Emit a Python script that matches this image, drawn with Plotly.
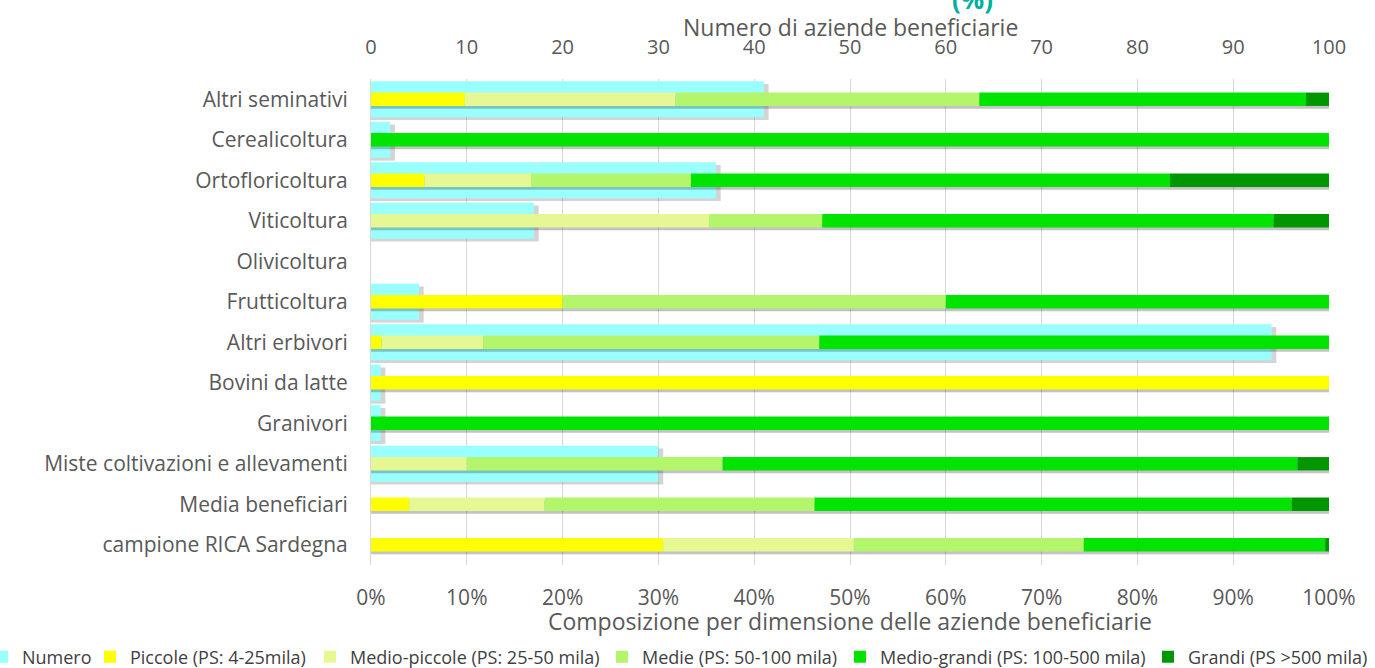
import plotly.graph_objects as go

categories = [
    "Altri seminativi", "Cerealicoltura", "Ortofloricoltura", "Viticoltura",
    "Olivicoltura", "Frutticoltura", "Altri erbivori", "Bovini da latte",
    "Granivori", "Miste coltivazioni e allevamenti", "Media beneficiari",
    "campione RICA Sardegna",
]

# Numero di aziende beneficiarie (top axis)
numero = [41, 2, 36, 17, 0, 5, 94, 1, 1, 30, None, None]

# Composizione per dimensione (%) (bottom axis)
piccole       = [9.8, 0, 5.6, 0, 0, 20, 1.1, 100, 0, 0, 4.0, 30.5]
medio_piccole = [22.0, 0, 11.1, 35.3, 0, 0, 10.6, 0, 0, 10.0, 14.1, 19.9]
medie         = [31.7, 0, 16.7, 11.8, 0, 40, 35.1, 0, 0, 26.7, 28.2, 24.0]
medio_grandi  = [34.1, 100, 50.0, 47.1, 0, 40, 53.2, 0, 100, 60.0, 49.8, 25.2]
grandi        = [2.4, 0, 16.6, 5.8, 0, 0, 0, 0, 0, 3.3, 3.9, 0.4]

series_names = [
    "Piccole (PS: 4-25mila)", "Medio-piccole (PS: 25-50 mila)",
    "Medie (PS: 50-100 mila)", "Medio-grandi (PS: 100-500 mila)",
    "Grandi (PS >500 mila)",
]
series_values = [piccole, medio_piccole, medie, medio_grandi, grandi]
series_colors = ["#FFFF00", "#E6F893", "#B3F56B", "#00E400", "#009600"]

top_title = "Numero di aziende beneficiarie"
bottom_title = "Composizione per dimensione delle aziende beneficiarie"

# figure geometry (pixels)
W, H = 1375, 668
ML, MR, MT, MB = 371, 46, 79, 103
PW, PH = W - ML - MR, H - MT - MB

# legend entry left edges (pixels), one legend box per entry
legend_px = [-18, 90, 310, 602, 840, 1148]

CYAN_W = 0.89
COMP_W = 0.33
SH = 0.07  # shadow drop in category units

fig = go.Figure()

# shadow of Numero bars
fig.add_trace(go.Bar(
    y=categories, x=[(v + 0.5) if v else None for v in numero], orientation="h",
    xaxis="x", yaxis="y", width=CYAN_W, offset=-CYAN_W / 2 + SH,
    marker=dict(color="rgba(60,60,60,0.22)", line=dict(width=0)),
    showlegend=False, hoverinfo="skip",
))
# Numero bars
fig.add_trace(go.Bar(
    y=categories, x=numero, orientation="h", name="Numero",
    xaxis="x", yaxis="y", width=CYAN_W, offset=-CYAN_W / 2,
    marker=dict(color="#99FFFF", line=dict(width=0)),
    legend="legend",
))

# shadow of composition bars
totals = [sum(s[i] for s in series_values) for i in range(len(categories))]
fig.add_trace(go.Bar(
    y=categories, x=[(t + 0.4) if t else None for t in totals], orientation="h",
    xaxis="x2", yaxis="y", width=COMP_W, offset=-COMP_W / 2 + SH,
    marker=dict(color="rgba(40,40,40,0.28)", line=dict(width=0)),
    showlegend=False, hoverinfo="skip",
))

# stacked composition bars (explicit bases)
bases = [0.0] * len(categories)
for k, (name, vals, col) in enumerate(zip(series_names, series_values, series_colors)):
    fig.add_trace(go.Bar(
        y=categories, x=vals, base=list(bases), orientation="h", name=name,
        xaxis="x2", yaxis="y", width=COMP_W, offset=-COMP_W / 2,
        marker=dict(color=col, line=dict(width=0)),
        legend=f"legend{k + 2}",
    ))
    bases = [b + v for b, v in zip(bases, vals)]

font_family = "Open Sans, Segoe UI, DejaVu Sans, sans-serif"
axis_color = "#595959"

legend_layouts = {}
for i, px in enumerate(legend_px):
    key = "legend" if i == 0 else f"legend{i + 1}"
    legend_layouts[key] = dict(
        orientation="h", x=(px - ML) / PW, xanchor="left",
        y=(PH - (657 - MT)) / PH, yanchor="middle",
        font=dict(size=18, color="#404040", family=font_family),
        itemwidth=30, bgcolor="rgba(0,0,0,0)",
    )

fig.update_layout(
    width=W, height=H,
    barmode="overlay",
    paper_bgcolor="white", plot_bgcolor="white",
    margin=dict(l=ML, r=MR, t=MT, b=MB, autoexpand=False),
    font=dict(family=font_family, color=axis_color, size=20),
    xaxis=dict(
        side="top", range=[0, 100], dtick=10, tick0=0,
        showgrid=True, gridcolor="#D9D9D9", gridwidth=1,
        zeroline=False, showline=False,
        tickfont=dict(size=20, color=axis_color),
        ticklabelstandoff=20,
    ),
    xaxis2=dict(
        overlaying="x", side="bottom", range=[0, 100], dtick=10, tick0=0,
        ticksuffix="%", showgrid=False, zeroline=False, showline=False,
        tickfont=dict(size=21, color=axis_color),
        ticklabelstandoff=18,
    ),
    yaxis=dict(
        type="category", categoryorder="array", categoryarray=categories,
        range=[len(categories) - 0.5, -0.5],
        showgrid=False, zeroline=False,
        showline=True, linecolor="#D9D9D9", linewidth=1,
        tickfont=dict(size=21, color=axis_color),
        ticklabelstandoff=18,
    ),
    annotations=[
        dict(text="<b>(%)</b>", xref="paper", yref="paper",
             x=(972 - ML) / PW, xanchor="center", y=1.123, yanchor="bottom",
             showarrow=False,
             font=dict(size=26, color="#00AFA0", family=font_family)),
        dict(text=top_title, xref="paper", yref="paper",
             x=0.5, xanchor="center", y=1 + (MT - 27) / PH, yanchor="middle",
             showarrow=False, font=dict(size=23, color=axis_color)),
        dict(text=bottom_title, xref="paper", yref="paper",
             x=0.5, xanchor="center", y=(PH - (621 - MT)) / PH, yanchor="middle",
             showarrow=False, font=dict(size=23, color=axis_color)),
    ],
    **legend_layouts,
)

fig.write_html(
    "out.html",
    config={"displayModeBar": False},
    post_script="document.body.style.margin='0';document.body.style.padding='0';",
)
